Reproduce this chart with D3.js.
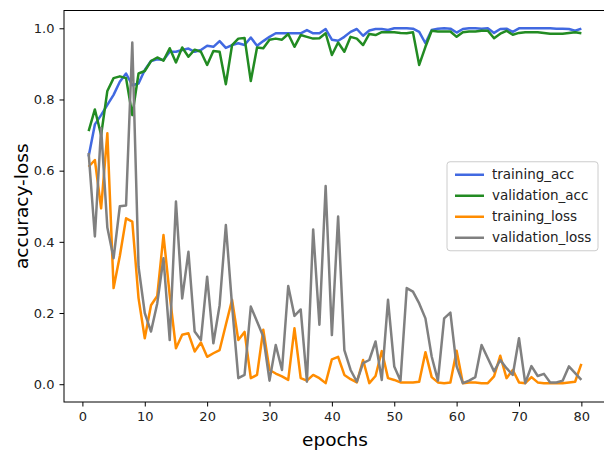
<!DOCTYPE html>
<html>
<head>
<meta charset="utf-8">
<script src="https://cdn.jsdelivr.net/npm/d3@7"></script>
<style>
  body { margin: 0; background: #fff; }
  text { font-family: "DejaVu Sans", sans-serif; }
</style>
</head>
<body>
<div id="chart"></div>
<script>
// values, one per epoch (1..80)
var epochs = d3.range(1, 81)

var training_acc = [
  0.64, 0.73, 0.756, 0.785, 0.813, 0.85, 0.873, 0.84, 0.845, 0.883,
  0.908, 0.913, 0.911, 0.934, 0.934, 0.939, 0.943, 0.934, 0.939, 0.951,
  0.948, 0.964, 0.945, 0.953, 0.958, 0.953, 0.974, 0.951, 0.964, 0.976,
  0.986, 0.986, 0.986, 0.986, 0.986, 0.995, 0.986, 0.986, 0.998, 0.968,
  0.965, 0.976, 0.99, 0.998, 0.979, 0.994, 0.998, 0.998, 0.995, 1.0,
  1.0, 1.0, 0.999, 0.99, 0.958, 0.995, 0.999, 1.0, 0.999, 0.988,
  0.998, 1.0, 1.0, 0.999, 1.0, 0.987, 0.998, 0.999, 0.99, 1.0,
  1.0, 1.0, 1.0, 1.0, 1.0, 0.999, 0.999, 0.998, 0.993, 0.999
]

var validation_acc = [
  0.711, 0.772, 0.70, 0.824, 0.86, 0.865, 0.86, 0.756, 0.873, 0.88,
  0.908, 0.918, 0.909, 0.944, 0.904, 0.946, 0.92, 0.94, 0.934, 0.897,
  0.936, 0.934, 0.843, 0.953, 0.971, 0.973, 0.852, 0.946, 0.944, 0.968,
  0.971, 0.968, 0.984, 0.948, 0.981, 0.976, 0.971, 0.972, 0.986, 0.925,
  0.96, 0.934, 0.976, 0.971, 0.953, 0.984, 0.981, 0.989, 0.989, 0.989,
  0.987, 0.986, 0.989, 0.897, 0.948, 0.993, 0.991, 0.991, 0.991, 0.976,
  0.989, 0.991, 0.991, 0.993, 0.993, 0.972, 0.985, 0.993, 0.982, 0.987,
  0.989, 0.989, 0.989, 0.987, 0.985, 0.985, 0.985, 0.987, 0.989, 0.986
]

var training_loss = [
  0.611, 0.63, 0.494, 0.705, 0.27, 0.36, 0.466, 0.457, 0.242, 0.129,
  0.222, 0.248, 0.419, 0.25, 0.101, 0.139, 0.143, 0.092, 0.117, 0.077,
  0.087, 0.096, 0.167, 0.237, 0.124, 0.147, 0.017, 0.026, 0.153, 0.04,
  0.03, 0.022, 0.012, 0.157, 0.017, 0.01, 0.026, 0.017, 0.003, 0.07,
  0.077, 0.026, 0.014, 0.005, 0.068, 0.003, 0.023, 0.093, 0.017, 0.012,
  0.005, 0.005, 0.005, 0.007, 0.09, 0.02, 0.005, 0.003, 0.005, 0.094,
  0.003, 0.005, 0.005, 0.003, 0.003, 0.022, 0.08, 0.017, 0.04, 0.005,
  0.003, 0.02, 0.005, 0.003, 0.003, 0.003, 0.003, 0.005, 0.007, 0.057
]

var validation_loss = [
  0.65, 0.415, 0.72, 0.44, 0.354, 0.50, 0.502, 0.96, 0.33, 0.2,
  0.148, 0.227, 0.354, 0.124, 0.513, 0.241, 0.372, 0.148, 0.124, 0.302,
  0.115, 0.222, 0.447, 0.22, 0.017, 0.026, 0.218, 0.176, 0.134, 0.01,
  0.11, 0.04, 0.276, 0.192, 0.21, 0.007, 0.435, 0.167, 0.557, 0.138,
  0.471, 0.096, 0.04, 0.007, 0.059, 0.068, 0.12, 0.012, 0.237, 0.05,
  0.01, 0.27, 0.26, 0.227, 0.185, 0.078, 0.01, 0.185, 0.201, 0.05,
  0.003, 0.01, 0.02, 0.11, 0.073, 0.036, 0.068, 0.045, 0.026, 0.129,
  0.003, 0.051, 0.023, 0.029, 0.005, 0.005, 0.01, 0.05, 0.031, 0.012
]

var series_names = ["training_acc", "validation_acc", "training_loss", "validation_loss"]
var series_values = [training_acc, validation_acc, training_loss, validation_loss]
var series_colors = ["#4169e1", "#228b22", "#ff8c00", "#808080"]

var x_ticks = [0, 10, 20, 30, 40, 50, 60, 70, 80]
var y_ticks = [0.0, 0.2, 0.4, 0.6, 0.8, 1.0]

var width = 604, height = 450
var margin = { top: 10.5, right: -2, bottom: 48, left: 64 }

var svg = d3.select("#chart").append("svg")
  .attr("width", width)
  .attr("height", height)

var x = d3.scaleLinear()
  .domain([-2.95, 83.95])
  .range([margin.left, width - margin.right])

var y = d3.scaleLinear()
  .domain([-0.05, 1.05])
  .range([height - margin.bottom, margin.top])

// lines
var line = d3.line()
  .x(function (d, i) { return x(epochs[i]) })
  .y(function (d) { return y(d) })

for (var s = 0; s < series_values.length; s++) {
  svg.append("path")
    .datum(series_values[s])
    .attr("fill", "none")
    .attr("stroke", series_colors[s])
    .attr("stroke-width", 2.5)
    .attr("stroke-linejoin", "round")
    .attr("d", line)
}

// axes frame
svg.append("rect")
  .attr("x", x.range()[0])
  .attr("y", y.range()[1])
  .attr("width", x.range()[1] - x.range()[0])
  .attr("height", y.range()[0] - y.range()[1])
  .attr("fill", "none")
  .attr("stroke", "#000")
  .attr("stroke-width", 1)

var xAxis = svg.append("g")
  .attr("transform", "translate(0," + y.range()[0] + ")")
  .call(d3.axisBottom(x).tickValues(x_ticks).tickSize(4.5).tickPadding(5).tickFormat(d3.format("d")))
xAxis.select(".domain").remove()

var yAxis = svg.append("g")
  .attr("transform", "translate(" + x.range()[0] + ",0)")
  .call(d3.axisLeft(y).tickValues(y_ticks).tickSize(4.5).tickPadding(5).tickFormat(d3.format(".1f")))
yAxis.select(".domain").remove()

svg.selectAll(".tick text")
  .attr("font-family", "DejaVu Sans")
  .attr("font-size", 13)
  .attr("fill", "#222")
svg.selectAll(".tick line").attr("stroke", "#000")

// axis labels
svg.append("text")
  .attr("x", (x.range()[0] + x.range()[1]) / 2)
  .attr("y", 446)
  .attr("text-anchor", "middle")
  .attr("font-size", 18.5)
  .text("epochs")

svg.append("text")
  .attr("transform", "translate(28," + (y.range()[0] + y.range()[1]) / 2 + ") rotate(-90)")
  .attr("text-anchor", "middle")
  .attr("font-size", 18.5)
  .text("accuracy-loss")

// legend, centre right
var fs = 13.5
var rowH = 21
var legendW = 151
var legendH = rowH * series_names.length + 5
var lx = 598 - legendW
var ly = (y.range()[0] + y.range()[1]) / 2 - legendH / 2

var legend = svg.append("g").attr("transform", "translate(" + lx + "," + ly + ")")
legend.append("rect")
  .attr("width", legendW)
  .attr("height", legendH)
  .attr("rx", 3)
  .attr("fill", "#fff")
  .attr("fill-opacity", 0.8)
  .attr("stroke", "#cccccc")

series_names.forEach(function (name, i) {
  var cy = 13 + i * rowH
  legend.append("line")
    .attr("x1", 8).attr("x2", 37)
    .attr("y1", cy).attr("y2", cy)
    .attr("stroke", series_colors[i])
    .attr("stroke-width", 2.5)
  legend.append("text")
    .attr("x", 45)
    .attr("y", cy)
    .attr("dy", "0.35em")
    .attr("font-size", fs)
    .attr("fill", "#222")
    .text(name)
})
</script>
</body>
</html>
